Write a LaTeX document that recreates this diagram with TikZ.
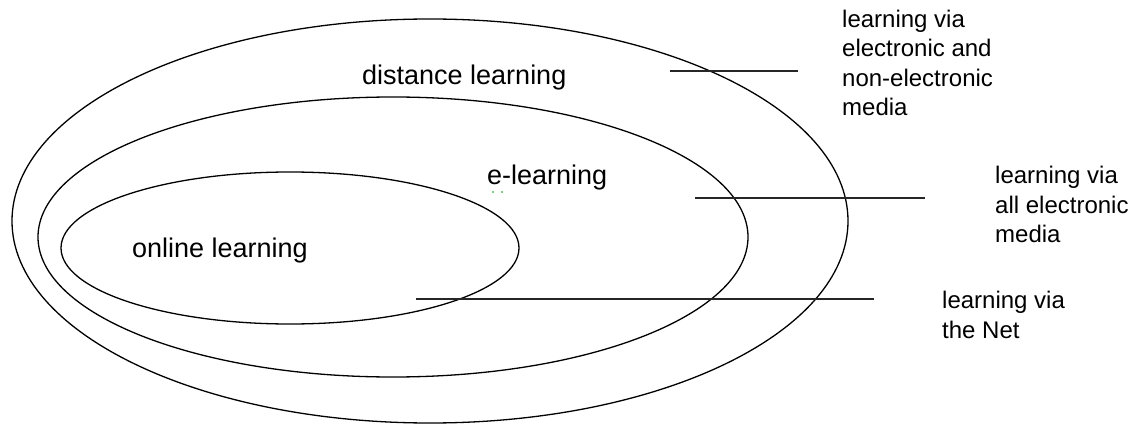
\documentclass[tikz,border=0pt]{standalone}
\usepackage{fontspec}
\setmainfont{Liberation Sans}
\begin{document}
\begin{tikzpicture}[x=1pt,y=-1pt,
  ring/.style={draw=black,line width=1.3pt},
  leader/.style={draw=black!85,line width=1.5pt},
  inlabel/.style={font=\fontsize{27}{32}\selectfont,inner sep=0pt,anchor=base west},
  sidelabel/.style={font=\fontsize{24}{29.5}\selectfont,align=left,inner sep=0pt,anchor=base west}]
\useasboundingbox (0,0) rectangle (1136,425);
% nested sets
\coordinate (outerC) at (430,221);
\coordinate (middleC) at (393,237);
\coordinate (innerC) at (290,248);
\draw[ring] (outerC) ellipse [x radius=418, y radius=202];
\draw[ring] (middleC) ellipse [x radius=355, y radius=140];
\draw[ring] (innerC) ellipse [x radius=229, y radius=76];
% labels inside
\node[inlabel] (dist) at (362,85) {distance learning};
\node[inlabel] (elearn) at (487,185) {e-learning};
\node[inlabel] (online) at (132,257) {online learning};
\fill[green!60!black] (493,192) circle [radius=0.8];
\fill[green!60!black] (502,192) circle [radius=0.8];
% side labels (anchored at the baseline of their last line)
\node[sidelabel] (lab1) at (842,116) {learning via\\electronic and\\non-electronic\\media};
\node[sidelabel] (lab2) at (995,243) {learning via\\all electronic\\media};
\node[sidelabel] (lab3) at (942,338) {learning via\\the Net};
% leader lines
\coordinate (l1a) at (670,71);  \coordinate (l1b) at (798,71);
\coordinate (l2a) at (695,198); \coordinate (l2b) at (925,198);
\coordinate (l3a) at (416,299); \coordinate (l3b) at (874,299);
\draw[leader] (l1a) -- (l1b);
\draw[leader] (l2a) -- (l2b);
\draw[leader] (l3a) -- (l3b);
\end{tikzpicture}
\end{document}
